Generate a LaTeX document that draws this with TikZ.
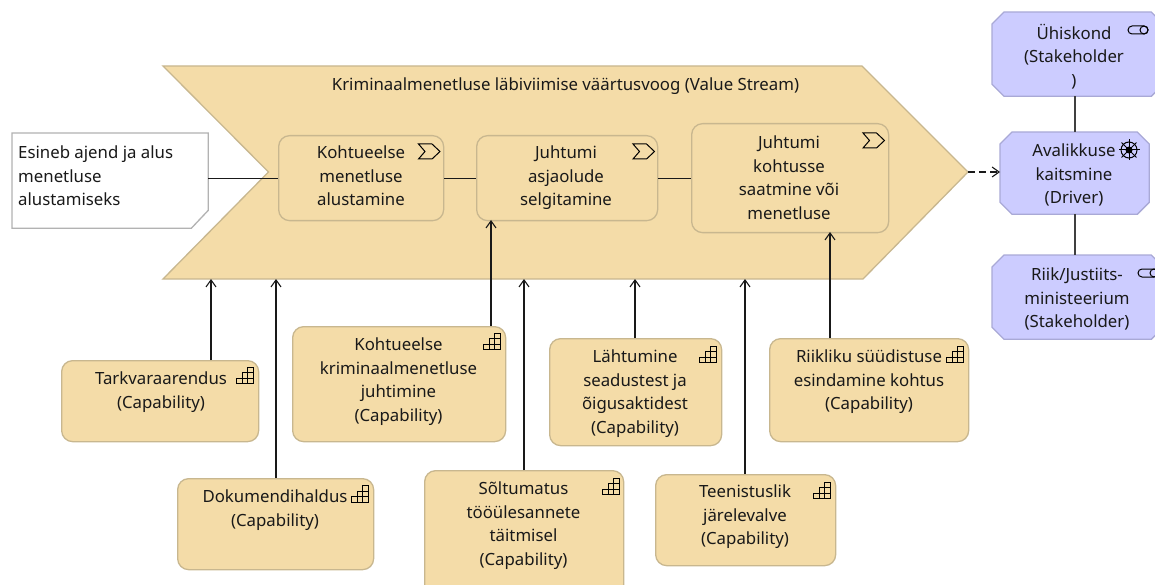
\documentclass[tikz,border=0pt]{standalone}
\usepackage{fontspec}
\setmainfont{Noto Sans}
\usetikzlibrary{arrows.meta}
\definecolor{tanfill}{HTML}{F4DCA8}
\definecolor{tanline}{HTML}{C8B78F}
\definecolor{bluefill}{HTML}{CCCCFF}
\definecolor{blueline}{HTML}{A9A9D6}
\tikzset{
    box/.style={anchor=north west,inner sep=0pt,line width=1.3pt},
    capbox/.style={box,rectangle,rounded corners=11pt,draw=tanline,fill=tanfill},
    stagebox/.style={capbox},
    motivbox/.style={box,rectangle},
    notebox/.style={box,rectangle},
    txt/.style={anchor=north,inner sep=0pt,align=center,font=\fontsize{16.8}{23.5}\selectfont,text=black!90},
    link/.style={line width=1.1pt,draw=black!90},
    flow/.style={link,-{Straight Barb[length=7pt,width=10pt,line width=1.1pt]}},
    stairicon/.pic={
        \draw[line width=1pt] (11.5,0) rectangle (17,16.5);
        \draw[line width=1pt] (6,5.5) rectangle (17,16.5);
        \draw[line width=1pt] (0,11) rectangle (17,16.5);
    },
    chevicon/.pic={
        \draw[line width=1pt] (0,0) -- (13.5,0) -- (21.5,7.5) -- (13.5,15) -- (0,15) -- (6.5,7.5) -- cycle;
    },
    roleicon/.pic={
        \draw[line width=1pt,rounded corners=4pt] (0,0) rectangle (20,8);
        \draw[line width=1pt] (16,4) circle[radius=4pt];
    },
    wheelicon/.pic={
        \foreach \a in {0,45,...,315}
            \draw[line width=1pt] (0,0) -- (\a:10.5);
        \draw[line width=1pt] (0,0) circle[radius=8pt];
        \fill (0,0) circle[radius=3.5pt];
    },
}
\newcommand{\octagon}[1]{
    \draw[line width=1.3pt,draw=blueline,fill=bluefill] ([xshift=12pt]#1.north west) -- ([xshift=-12pt]#1.north east) -- ([yshift=-12pt]#1.north east) -- ([yshift=12pt]#1.south east) -- ([xshift=-12pt]#1.south east) -- ([xshift=12pt]#1.south west) -- ([yshift=12pt]#1.south west) -- ([yshift=-12pt]#1.north west) -- cycle;
}
\begin{document}
\begin{tikzpicture}[x=1pt,y=-1pt]
    \useasboundingbox (0,0) rectangle (1155,585);
    \clip (0,0) rectangle (1155,585);

    \draw[line width=1.3pt,draw=tanline,fill=tanfill] (163,66) -- (862,66) -- (968,172) -- (863,279) -- (163,279) -- (268.5,172) -- cycle;
    \coordinate (tip) at (968,172);
    \node[txt] (streamtxt) at (565.5,78) {Kriminaalmenetluse läbiviimise väärtusvoog (Value Stream)};

    \node[notebox,minimum width=195pt,minimum height=94pt] (ajend) at (12,133) {};
    \draw[line width=1.3pt,draw=black!30,fill=white] (ajend.north west) -- (ajend.north east) -- ([yshift=18pt]ajend.south east) -- ([xshift=-17pt]ajend.south east) -- (ajend.south west) -- cycle;
    \node[txt,anchor=north west,align=left] (ajendtxt) at (18,146) {Esineb ajend ja alus\\menetluse\\alustamiseks};

    \node[stagebox,minimum width=165pt,minimum height=85pt] (stage1) at (278,135) {};
    \node[txt] (stage1txt) at (361,146) {Kohtueelse\\menetluse\\alustamine};
    \pic at (418.5,144) {chevicon};
    \node[stagebox,minimum width=181pt,minimum height=85pt] (stage2) at (476,135) {};
    \node[txt] (stage2txt) at (566,146) {Juhtumi\\asjaolude\\selgitamine};
    \pic at (633,144) {chevicon};
    \node[stagebox,minimum width=197pt,minimum height=109pt] (stage3) at (691,123) {};
    \node[txt] (stage3txt) at (789,136) {Juhtumi\\kohtusse\\saatmine või\\menetluse};
    \pic at (863,133) {chevicon};

    \node[capbox,minimum width=197pt,minimum height=81pt] (tark) at (61,360) {};
    \node[txt] (tarktxt) at (161,372) {Tarkvaraarendus\\(Capability)};
    \pic at (236,367) {stairicon};
    \node[capbox,minimum width=196pt,minimum height=91pt] (dok) at (177,478) {};
    \node[txt] (doktxt) at (275,490) {Dokumendihaldus\\(Capability)};
    \pic at (351,485.5) {stairicon};
    \node[capbox,minimum width=213pt,minimum height=115pt] (krim) at (292,326) {};
    \node[txt] (krimtxt) at (398.5,338) {Kohtueelse\\kriminaalmenetluse\\juhtimine\\(Capability)};
    \pic at (483,333) {stairicon};
    \node[capbox,minimum width=199pt,minimum height=125pt] (solt) at (424,470) {};
    \node[txt] (solttxt) at (523.5,482) {Sõltumatus\\tööülesannete\\täitmisel\\(Capability)};
    \pic at (602,478) {stairicon};
    \node[capbox,minimum width=172pt,minimum height=107pt] (lahte) at (549,338) {};
    \node[txt] (lahtetxt) at (635,350) {Lähtumine\\seadustest ja\\õigusaktidest\\(Capability)};
    \pic at (699,346) {stairicon};
    \node[capbox,minimum width=180pt,minimum height=91pt] (teen) at (655,474) {};
    \node[txt] (teentxt) at (745,485) {Teenistuslik\\järelevalve\\(Capability)};
    \pic at (813,482) {stairicon};
    \node[capbox,minimum width=199pt,minimum height=103pt] (riiklik) at (769,338) {};
    \node[txt] (riikliktxt) at (869,350) {Riikliku süüdistuse\\esindamine kohtus\\(Capability)};
    \pic at (946,346) {stairicon};

    \node[motivbox,minimum width=170pt,minimum height=83pt] (yhis) at (992,12) {};
    \octagon{yhis}
    \node[txt] (yhistxt) at (1074,24) {Ühiskond\\(Stakeholder\\)};
    \pic at (1128,26) {roleicon};
    \node[motivbox,minimum width=148pt,minimum height=81pt] (aval) at (1000,132) {};
    \octagon{aval}
    \node[txt] (avaltxt) at (1074,144) {Avalikkuse\\kaitsmine\\(Driver)};
    \pic at (1129,150) {wheelicon};
    \node[motivbox,minimum width=170pt,minimum height=83pt] (riik) at (992,255) {};
    \octagon{riik}
    \node[txt] (riiktxt) at (1077,268) {Riik/Justiits-\\ministeerium\\(Stakeholder)};
    \pic at (1138,269) {roleicon};

    \coordinate (in1) at (211,279);
    \coordinate (in2) at (276,279);
    \coordinate (in3) at (491,220);
    \coordinate (in4) at (524,279);
    \coordinate (in5) at (635,279);
    \coordinate (in6) at (745,279);
    \coordinate (in7) at (830,232);
    \coordinate (mid) at (1075,172);

    \draw[link] (ajend.east |- stage1.west) -- (stage1.west);
    \draw[link] (stage1.east) -- (stage2.west);
    \draw[link] (stage2.east) -- (stage3.west);
    \draw[flow] (tark.north -| in1) -- (in1);
    \draw[flow] (dok.north -| in2) -- (in2);
    \draw[flow] (krim.north -| in3) -- (in3);
    \draw[flow] (solt.north -| in4) -- (in4);
    \draw[flow] (lahte.north -| in5) -- (in5);
    \draw[flow] (teen.north -| in6) -- (in6);
    \draw[flow] (riiklik.north -| in7) -- (in7);
    \draw[flow,dash pattern=on 7pt off 4pt] (tip) -- (aval.west |- tip);
    \draw[link,draw=black!75] (yhis.south -| mid) -- (aval.north -| mid);
    \draw[link,draw=black!75] (aval.south -| mid) -- (riik.north -| mid);
\end{tikzpicture}
\end{document}
